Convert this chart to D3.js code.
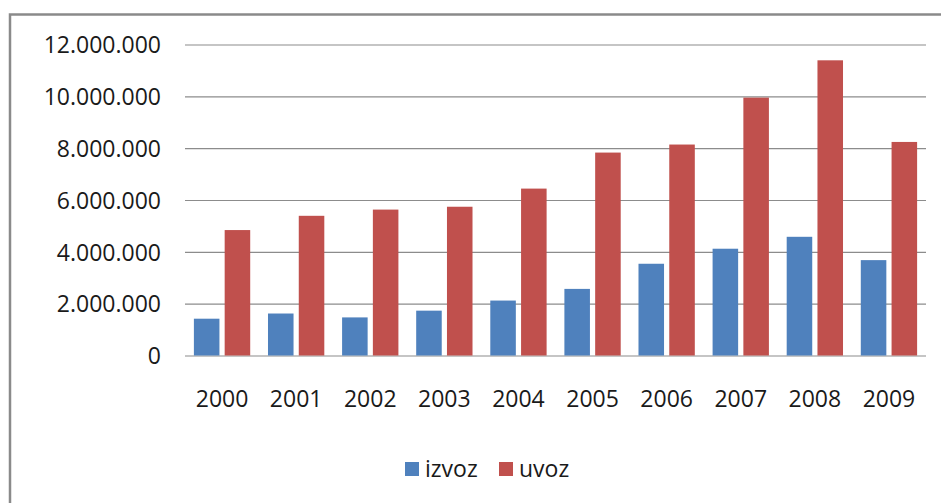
<!DOCTYPE html>
<meta charset="utf-8" />
<style>
  body { margin: 0; background: #fff; }
  svg text { font-family: "Open Sans", sans-serif; fill: #1a1a1a; }
  .grid line { stroke: #8c8c8c; stroke-width: 1.2; }
  .grid .domain { display: none; }
</style>
<svg width="941" height="503"></svg>
<script src="https://d3js.org/d3.v7.min.js"></script>
<script>
  // data
  const years = ['2000', '2001', '2002', '2003', '2004', '2005', '2006', '2007', '2008', '2009'];
  const series = ['izvoz', 'uvoz'];
  const izvoz = [1420000, 1620000, 1470000, 1730000, 2120000, 2570000, 3540000, 4120000, 4580000, 3680000];
  const uvoz = [4840000, 5390000, 5630000, 5740000, 6440000, 7830000, 8140000, 9950000, 11390000, 8240000];
  const yTicks = [0, 2000000, 4000000, 6000000, 8000000, 10000000, 12000000];
  const colors = ['#4f81bd', '#c0504d'];

  const svg = d3.select('svg');

  const plotLeft = 185, plotRight = 926, plotTop = 44.5, plotBottom = 355.5;

  const locale = d3.formatLocale({ decimal: ',', thousands: '.', grouping: [3], currency: ['', ''] });
  const fmt = locale.format(',');

  // outer frame (chart area border)
  svg.append('rect')
    .attr('x', 10).attr('y', 14.5)
    .attr('width', 1000).attr('height', 600)
    .attr('fill', 'none')
    .attr('stroke', '#8a8a8a')
    .attr('stroke-width', 2.5);

  const x0 = d3.scaleBand()
    .domain(years)
    .range([plotLeft, plotRight])
    .paddingInner(0.24)
    .paddingOuter(0.12);

  const x1 = d3.scaleBand()
    .domain(series)
    .range([0, x0.bandwidth()])
    .paddingInner(0.17);

  const y = d3.scaleLinear()
    .domain([0, 12000000])
    .range([plotBottom, plotTop]);

  const color = d3.scaleOrdinal().domain(series).range(colors);

  // gridlines + y labels
  const gy = svg.append('g')
    .attr('class', 'grid')
    .attr('transform', `translate(${plotLeft},0)`)
    .call(d3.axisLeft(y)
      .tickValues(yTicks)
      .tickSize(-(plotRight - plotLeft))
      .tickPadding(24)
      .tickFormat(fmt));
  gy.selectAll('text')
    .attr('font-size', 23)
    .attr('dy', '0.36em');

  // bars
  const rows = years.map((yr, i) => ({ year: yr, izvoz: izvoz[i], uvoz: uvoz[i] }));
  svg.append('g')
    .selectAll('g')
    .data(rows)
    .join('g')
    .attr('transform', d => `translate(${x0(d.year)},0)`)
    .selectAll('rect')
    .data(d => series.map(k => ({ key: k, value: d[k] })))
    .join('rect')
    .attr('x', d => x1(d.key))
    .attr('width', x1.bandwidth())
    .attr('y', d => y(d.value))
    .attr('height', d => y(0) - y(d.value))
    .attr('fill', d => color(d.key));

  // x axis labels
  const gx = svg.append('g')
    .attr('transform', `translate(0,${plotBottom})`)
    .call(d3.axisBottom(x0).tickSize(0).tickPadding(35));
  gx.select('.domain').remove();
  gx.selectAll('text').attr('font-size', 23).attr('dy', '0.71em');

  // legend
  const legendX = [405, 499];
  const legend = svg.append('g')
    .selectAll('g')
    .data(series)
    .join('g')
    .attr('transform', (d, i) => `translate(${legendX[i]},462)`);
  legend.append('rect')
    .attr('width', 14).attr('height', 14)
    .attr('fill', d => color(d));
  legend.append('text')
    .attr('x', 20).attr('y', 14.5)
    .attr('font-size', 23)
    .text(d => d);
</script>
